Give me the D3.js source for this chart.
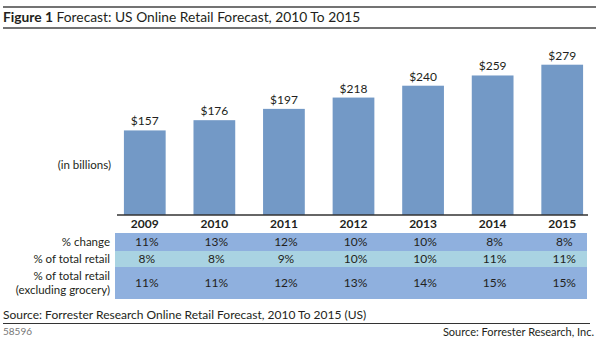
<!DOCTYPE html>
<html><head><meta charset="utf-8">
<script src="https://cdn.jsdelivr.net/npm/d3@7"></script>
<style>body{margin:0;background:#fff}svg{display:block;font-family:Lato,"Open Sans",sans-serif}</style>
</head><body><div id="chart"></div>
<script>
const years = ["2009","2010","2011","2012","2013","2014","2015"];
const sales = [157,176,197,218,240,259,279];
const pctChange = ["11%","13%","12%","10%","10%","8%","8%"];
const pctTotal = ["8%","8%","9%","10%","10%","11%","11%"];
const pctExGrocery = ["11%","11%","12%","13%","14%","15%","15%"];
const rowLabels = [["% change"],["% of total retail"],["% of total retail","(excluding grocery)"]];

const W=600,H=348;
const svg=d3.select("#chart").append("svg").attr("width",W).attr("height",H);
const txt="#231f20";

// header
svg.append("line").attr("x1",3).attr("x2",596).attr("y1",7).attr("y2",7).attr("stroke","#444").attr("stroke-width",1.5);
svg.append("line").attr("x1",3).attr("x2",596).attr("y1",28).attr("y2",28).attr("stroke","#444").attr("stroke-width",1.5);
const t=svg.append("text").attr("x",3).attr("y",22).attr("font-size",13.8).attr("fill",txt);
t.append("tspan").attr("font-weight","bold").text("Figure 1");
t.append("tspan").text(" Forecast: US Online Retail Forecast, 2010 To 2015");

const x=d3.scaleBand().domain(years).range([110,597]).paddingInner(0.4).paddingOuter(0.2);
const y=d3.scaleLinear().domain([0,279]).range([215,64.7]);

svg.selectAll("rect.bar").data(sales).join("rect").attr("class","bar")
  .attr("x",(d,i)=>x(years[i])).attr("width",x.bandwidth())
  .attr("y",d=>y(d)).attr("height",d=>y(0)-y(d)).attr("fill","#7399c6");
svg.selectAll("text.val").data(sales).join("text").attr("class","val")
  .attr("x",(d,i)=>x(years[i])+x.bandwidth()/2).attr("y",d=>y(d)-5)
  .attr("text-anchor","middle").attr("font-size",12).attr("fill",txt).text(d=>"$"+d);

svg.append("line").attr("x1",117).attr("x2",588).attr("y1",215).attr("y2",215).attr("stroke","#333").attr("stroke-width",1.5);

svg.append("text").attr("x",111).attr("y",169).attr("text-anchor","end").attr("font-size",11.5).attr("fill",txt).text("(in billions)");

svg.selectAll("text.yr").data(years).join("text").attr("class","yr")
  .attr("x",d=>x(d)+x.bandwidth()/2).attr("y",228).attr("text-anchor","middle")
  .attr("font-size",12).attr("font-weight","bold").attr("fill",txt).text(d=>d);

// table
const rows=[{vals:pctChange,y0:233,y1:251,fill:"#8fb0de"},{vals:pctTotal,y0:251,y1:267,fill:"#a9d3e2"},{vals:pctExGrocery,y0:267,y1:299,fill:"#8fb0de"}];
rows.forEach((r,ri)=>{
  svg.append("rect").attr("x",115).attr("y",r.y0).attr("width",587-115).attr("height",r.y1-r.y0).attr("fill",r.fill);
  svg.selectAll("text.r"+ri).data(r.vals).join("text").attr("class","r"+ri)
    .attr("x",(d,i)=>x(years[i])+x.bandwidth()/2+2).attr("y",(r.y0+r.y1)/2+4)
    .attr("text-anchor","middle").attr("font-size",12).attr("fill",txt).text(d=>d);
  const lab=rowLabels[ri];
  lab.forEach((l,li)=>{
    svg.append("text").attr("x",110).attr("y",(r.y0+r.y1)/2+4+(li-(lab.length-1)/2)*13.5)
      .attr("text-anchor","end").attr("font-size",11.5).attr("fill",txt).text(l);
  });
});

// footer
svg.append("text").attr("x",3).attr("y",319).attr("font-size",12).attr("fill",txt).text("Source: Forrester Research Online Retail Forecast, 2010 To 2015 (US)");
svg.append("line").attr("x1",3).attr("x2",590).attr("y1",323.5).attr("y2",323.5).attr("stroke","#333").attr("stroke-width",1);
svg.append("text").attr("x",3).attr("y",335).attr("font-size",10).attr("fill","#777").text("58596");
svg.append("text").attr("x",594).attr("y",336).attr("text-anchor","end").attr("font-size",11).attr("fill",txt).text("Source: Forrester Research, Inc.");
</script></body></html>
